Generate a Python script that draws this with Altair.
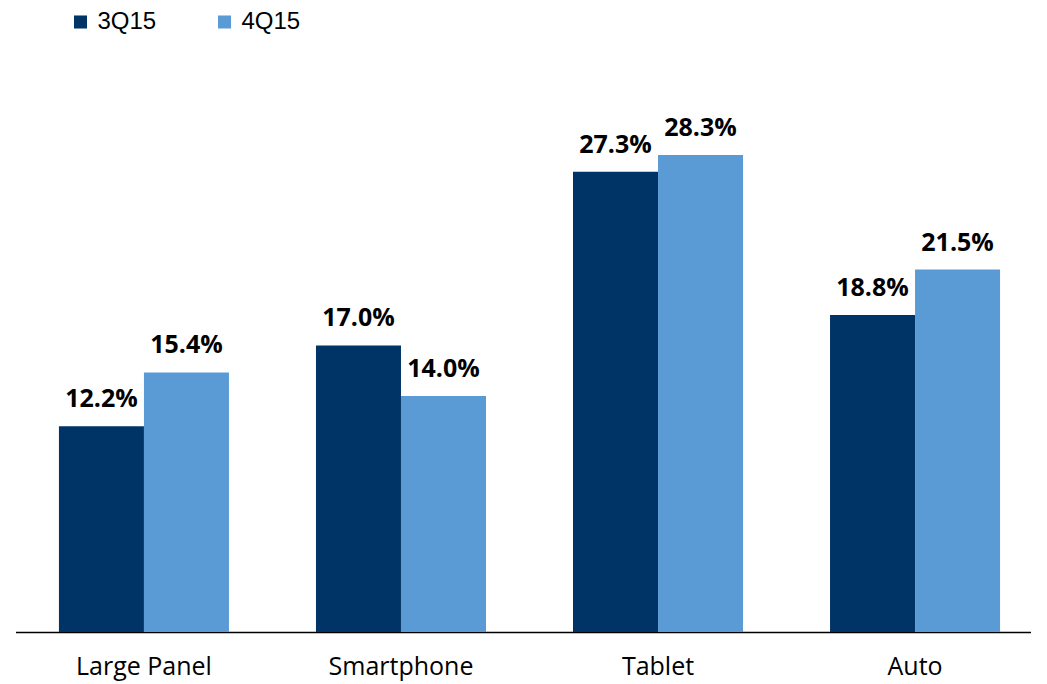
import altair as alt
import pandas as pd

categories = ["Large Panel", "Smartphone", "Tablet", "Auto"]
series = ["3Q15", "4Q15"]
values_3q15 = [12.2, 17.0, 27.3, 18.8]
values_4q15 = [15.4, 14.0, 28.3, 21.5]
colors = ["#003366", "#5B9BD5"]

rows = []
for c, a, b in zip(categories, values_3q15, values_4q15):
    rows.append({"category": c, "series": "3Q15", "value": a})
    rows.append({"category": c, "series": "4Q15", "value": b})
df = pd.DataFrame(rows)
df["label"] = df["value"].map(lambda v: f"{v:.1f}%")

x_enc = alt.X("category:N", sort=categories,
              scale=alt.Scale(paddingInner=0.3385, paddingOuter=0.169),
              axis=alt.Axis(title=None, ticks=False, domainColor="#000000",
                            domainWidth=1.5, labelFont="Open Sans",
                            labelFontSize=25, labelColor="#000000",
                            labelPadding=22, labelAngle=0))
xoff = alt.XOffset("series:N", sort=series,
                   scale=alt.Scale(paddingInner=0, paddingOuter=0))
y_enc = alt.Y("value:Q", scale=alt.Scale(domain=[0, 35], nice=False),
              axis=None)

bars = alt.Chart(df).mark_bar(cornerRadius=0).encode(
    x=x_enc, xOffset=xoff, y=y_enc,
    color=alt.Color("series:N", sort=series,
                    scale=alt.Scale(domain=series, range=colors),
                    legend=alt.Legend(title=None, orient="none",
                                      legendX=53, legendY=-32,
                                      direction="horizontal",
                                      symbolType="square", symbolSize=170,
                                      symbolStrokeWidth=0,
                                      labelFont="Liberation Sans",
                                      labelFontSize=24, labelColor="#000000",
                                      labelOffset=5, columnPadding=56)),
)

labels = alt.Chart(df).mark_text(font="Open Sans", fontWeight="bold",
                                 fontSize=25, baseline="alphabetic",
                                 dy=-19, color="#000000").encode(
    x=x_enc, xOffset=xoff, y=y_enc, text="label:N")

chart = (bars + labels).properties(
    width=1028, height=590,
    autosize=alt.AutoSizeParams(type="none"),
    padding={"left": 7.5, "top": 34, "right": -12.5, "bottom": 52},
).configure_view(stroke=None).configure_axis(grid=False)

chart.save("out.html", embed_options={"renderer": "svg", "actions": False})
